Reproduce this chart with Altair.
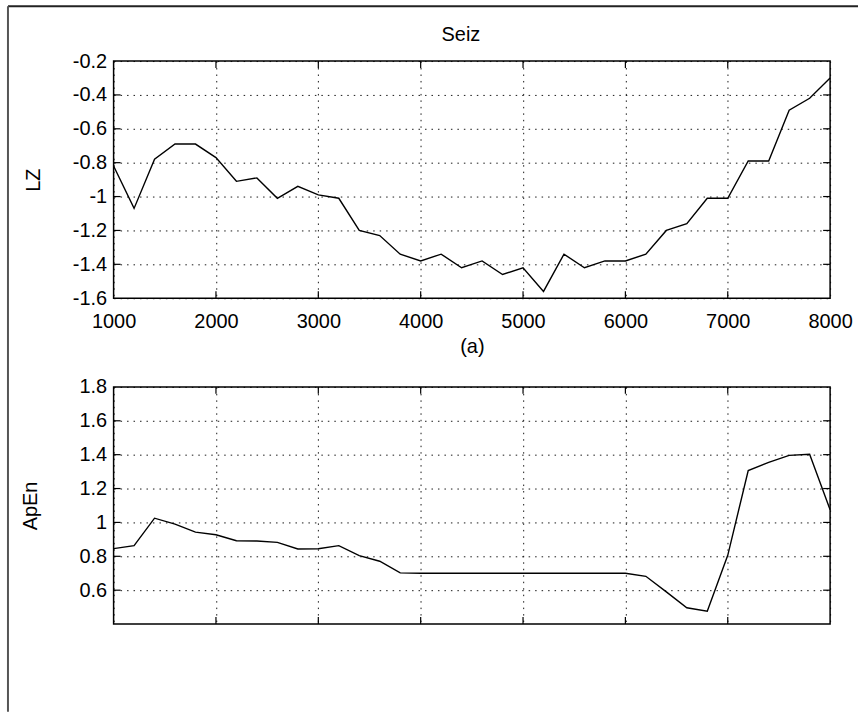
import altair as alt
import pandas as pd

# ---------------- data ----------------
x_values = [1000, 1200, 1400, 1600, 1800, 2000, 2200, 2400, 2600, 2800,
            3000, 3200, 3400, 3600, 3800, 4000, 4200, 4400, 4600, 4800,
            5000, 5200, 5400, 5600, 5800, 6000, 6200, 6400, 6600, 6800,
            7000, 7200, 7400, 7600, 7800, 8000]
lz_values = [-0.82, -1.07, -0.78, -0.69, -0.69, -0.77, -0.91, -0.89, -1.01, -0.94,
             -0.99, -1.01, -1.20, -1.23, -1.34, -1.38, -1.34, -1.42, -1.38, -1.46,
             -1.42, -1.56, -1.34, -1.42, -1.38, -1.38, -1.34, -1.20, -1.16, -1.01,
             -1.01, -0.79, -0.79, -0.49, -0.42, -0.30]
apen_values = [0.845, 0.863, 1.025, 0.99, 0.943, 0.927, 0.892, 0.890, 0.882, 0.843,
               0.845, 0.863, 0.804, 0.771, 0.702, 0.70, 0.70, 0.70, 0.70, 0.70,
               0.70, 0.70, 0.70, 0.70, 0.70, 0.70, 0.682, 0.59, 0.496, 0.476,
               0.806, 1.306, 1.355, 1.396, 1.402, 1.075]

x_ticks = [1000, 2000, 3000, 4000, 5000, 6000, 7000, 8000]
x_inner_ticks = [2000, 3000, 4000, 5000, 6000, 7000]
lz_ticks = [-1.6, -1.4, -1.2, -1.0, -0.8, -0.6, -0.4, -0.2]
lz_inner_ticks = [-1.4, -1.2, -1.0, -0.8, -0.6, -0.4]
apen_ticks = [0.6, 0.8, 1.0, 1.2, 1.4, 1.6, 1.8]
apen_inner_ticks = [0.6, 0.8, 1.0, 1.2, 1.4, 1.6]

title_text = "Seiz"
top_y_title = "LZ"
bottom_y_title = "ApEn"
top_x_title = "(a)"

# ---------------- styling ----------------
W, H = 719, 238
FONT = "Liberation Sans"
FS = 20
TICK = 7

df = pd.DataFrame({"x": x_values, "lz": lz_values, "apen": apen_values})

xscale = alt.Scale(domain=[1000, 8000], nice=False, zero=False)
lz_scale = alt.Scale(domain=[-1.6, -0.2], nice=False, zero=False)
apen_scale = alt.Scale(domain=[0.4, 1.8], nice=False, zero=False)

common = dict(grid=True, gridDash=[1.5, 5], gridColor="black", gridWidth=1,
              gridOpacity=0.9, domain=False, ticks=False, tickSize=0,
              labelFont=FONT, labelFontSize=FS, labelColor="black",
              labelFlush=False, labelOverlap=False,
              titleFont=FONT, titleFontSize=FS, titleFontWeight="normal",
              titleColor="black", labelExpr="'' + datum.value")

top_x_axis = alt.Axis(values=x_ticks, title=top_x_title, labelPadding=13,
                      titlePadding=5, **common)
top_y_axis = alt.Axis(values=lz_ticks, title=top_y_title, labelPadding=7,
                      titleX=-80, titleBaseline="middle", **common)
bot_x_axis = alt.Axis(values=x_ticks, title="", labels=False, **common)
bot_y_axis = alt.Axis(values=apen_ticks, title=bottom_y_title, labelPadding=7,
                      titleX=-83, titleBaseline="middle", **common)


def inner_ticks(yvals, yfield, yscale, xaxis, yaxis):
    xt = pd.DataFrame({"x": x_inner_ticks})
    yt = pd.DataFrame({yfield: yvals})
    base_x = alt.Chart(xt).mark_rule(color="black", strokeWidth=1.2)
    base_y = alt.Chart(yt).mark_rule(color="black", strokeWidth=1.2)
    xenc = alt.X("x:Q", scale=xscale, axis=xaxis)
    yenc = alt.Y(f"{yfield}:Q", scale=yscale, axis=yaxis)
    return [
        base_x.encode(x=xenc, y=alt.value(0), y2=alt.value(TICK)),
        base_x.encode(x=xenc, y=alt.value(H - TICK), y2=alt.value(H)),
        base_y.encode(y=yenc, x=alt.value(0), x2=alt.value(TICK)),
        base_y.encode(y=yenc, x=alt.value(W - TICK), x2=alt.value(W)),
    ]


top_line = alt.Chart(df).mark_line(color="black", strokeWidth=1.4).encode(
    x=alt.X("x:Q", scale=xscale, axis=top_x_axis),
    y=alt.Y("lz:Q", scale=lz_scale, axis=top_y_axis),
)

top = alt.layer(top_line, *inner_ticks(lz_inner_ticks, "lz", lz_scale, top_x_axis, top_y_axis)).properties(
    width=W, height=H,
    title=alt.TitleParams(text=title_text, font=FONT, fontSize=FS, fontWeight="normal",
                          color="black", offset=6, dx=-11, anchor="middle"),
)

bottom_line = alt.Chart(df).mark_line(color="black", strokeWidth=1.4).encode(
    x=alt.X("x:Q", scale=xscale, axis=bot_x_axis),
    y=alt.Y("apen:Q", scale=apen_scale, axis=bot_y_axis),
)

# outer figure border (left and top edges, decoration only)
frame_df = pd.DataFrame({"k": [0]})
frame_top = alt.Chart(frame_df).mark_rule(color="#222222", strokeWidth=2).encode(
    x=alt.value(-106), x2=alt.value(747), y=alt.value(-382))
frame_left = alt.Chart(frame_df).mark_rule(color="#555555", strokeWidth=2).encode(
    x=alt.value(-106), y=alt.value(-382), y2=alt.value(326))

bottom = alt.layer(bottom_line,
                   *inner_ticks(apen_inner_ticks, "apen", apen_scale, bot_x_axis, bot_y_axis),
                   frame_top, frame_left).properties(width=W, height=H)

chart = alt.vconcat(top, bottom, spacing=89, bounds="flush").properties(
    padding={"left": 6, "top": 3, "right": 0, "bottom": 0},
    background="white",
).configure_view(stroke="black", strokeWidth=1.5)

chart.save("out.html", embed_options={"renderer": "svg", "actions": False})
